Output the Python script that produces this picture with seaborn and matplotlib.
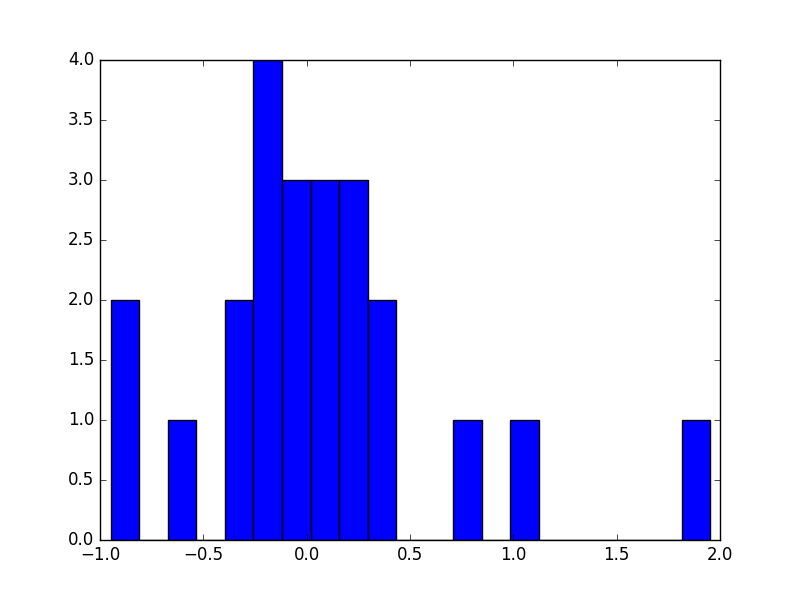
import numpy as np
import matplotlib
matplotlib.use("Agg")
import matplotlib.pyplot as plt
import seaborn as sns

plt.style.use("classic")

# histogram: 21 equal bins between lo and hi
lo, hi = -0.948, 1.953
nbins = 21
counts = [2, 0, 1, 0, 2, 4, 3, 3, 3, 2, 0, 0, 1, 0, 1, 0, 0, 0, 0, 0, 1]

edges = np.linspace(lo, hi, nbins + 1)
centers = (edges[:-1] + edges[1:]) / 2

fig, ax = plt.subplots(figsize=(8, 6), dpi=100)
sns.histplot(x=centers, weights=counts, bins=nbins, binrange=(lo, hi),
             color="blue", alpha=1, edgecolor="black", linewidth=1, ax=ax)
ax.set_xlim(-1.0, 2.0)
ax.set_ylim(0, 4.0)
ax.set_xlabel("")
ax.set_ylabel("")
ax.set_yticks(np.arange(0, 4.01, 0.5))
ax.set_xticks(np.arange(-1.0, 2.01, 0.5))

fig.savefig("out.png", dpi=100)
